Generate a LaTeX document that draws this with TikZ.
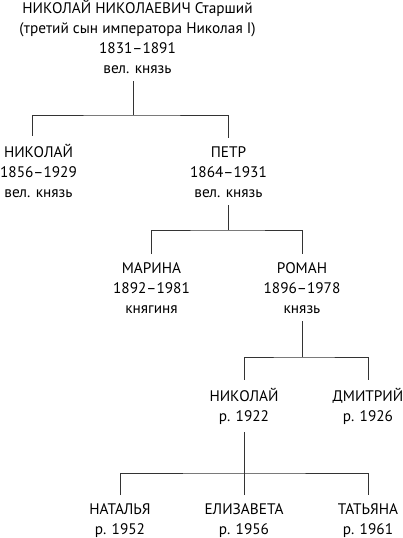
\documentclass[tikz,border=0pt]{standalone}
\usepackage{fontspec}
\setmainfont{PT Sans}
\begin{document}
\begin{tikzpicture}[x=1pt,y=-1pt,
  person/.style={align=center,inner sep=0pt,outer ysep=8pt,anchor=base,font=\fontsize{15.3}{20}\selectfont},
  link/.style={draw=black!80,line width=0.9pt}]
\useasboundingbox (0,0) rectangle (403,538);
% people (anchor = baseline of last line)
\node[person] (top) at (137.5,73) {НИКОЛАЙ НИКОЛАЕВИЧ Старший\\(третий сын императора Николая I)\\1831–1891\\вел. князь};
\node[person] (nik) at (38.5,197) {НИКОЛАЙ\\1856–1929\\вел. князь};
\node[person] (pet) at (228.5,197) {ПЕТР\\1864–1931\\вел. князь};
\node[person] (mar) at (151.5,313) {МАРИНА\\1892–1981\\княгиня};
\node[person] (rom) at (302,313) {РОМАН\\1896–1978\\князь};
\node[person] (nik2) at (244,421) {НИКОЛАЙ\\р. 1922};
\node[person] (dmi) at (368,421) {ДМИТРИЙ\\р. 1926};
\node[person] (nat) at (120,534) {НАТАЛЬЯ\\р. 1952};
\node[person] (eli) at (244,534) {ЕЛИЗАВЕТА\\р. 1956};
\node[person] (tat) at (368,534) {ТАТЬЯНА\\р. 1961};
% junctions
\coordinate (j1) at (133,115);
\coordinate (k1) at (32,115);
\coordinate (j2) at (228.5,230);
\coordinate (j3) at (302,357);
\coordinate (j4) at (244,473);
% connectors
\draw[link] (top.south -| j1) -- (j1);
\draw[link] (nik.north -| k1) -- (k1) -- (j1) -| (pet.north);
\draw[link] (pet.south) -- (j2);
\draw[link] (mar.north) |- (j2) -| (rom.north);
\draw[link] (rom.south) -- (j3);
\draw[link] (nik2.north) |- (j3) -| (dmi.north);
\draw[link] (nik2.south) -- (j4);
\draw[link] (nat.north) |- (j4) -| (tat.north);
\draw[link] (eli.north) -- (j4);
\end{tikzpicture}
\end{document}
